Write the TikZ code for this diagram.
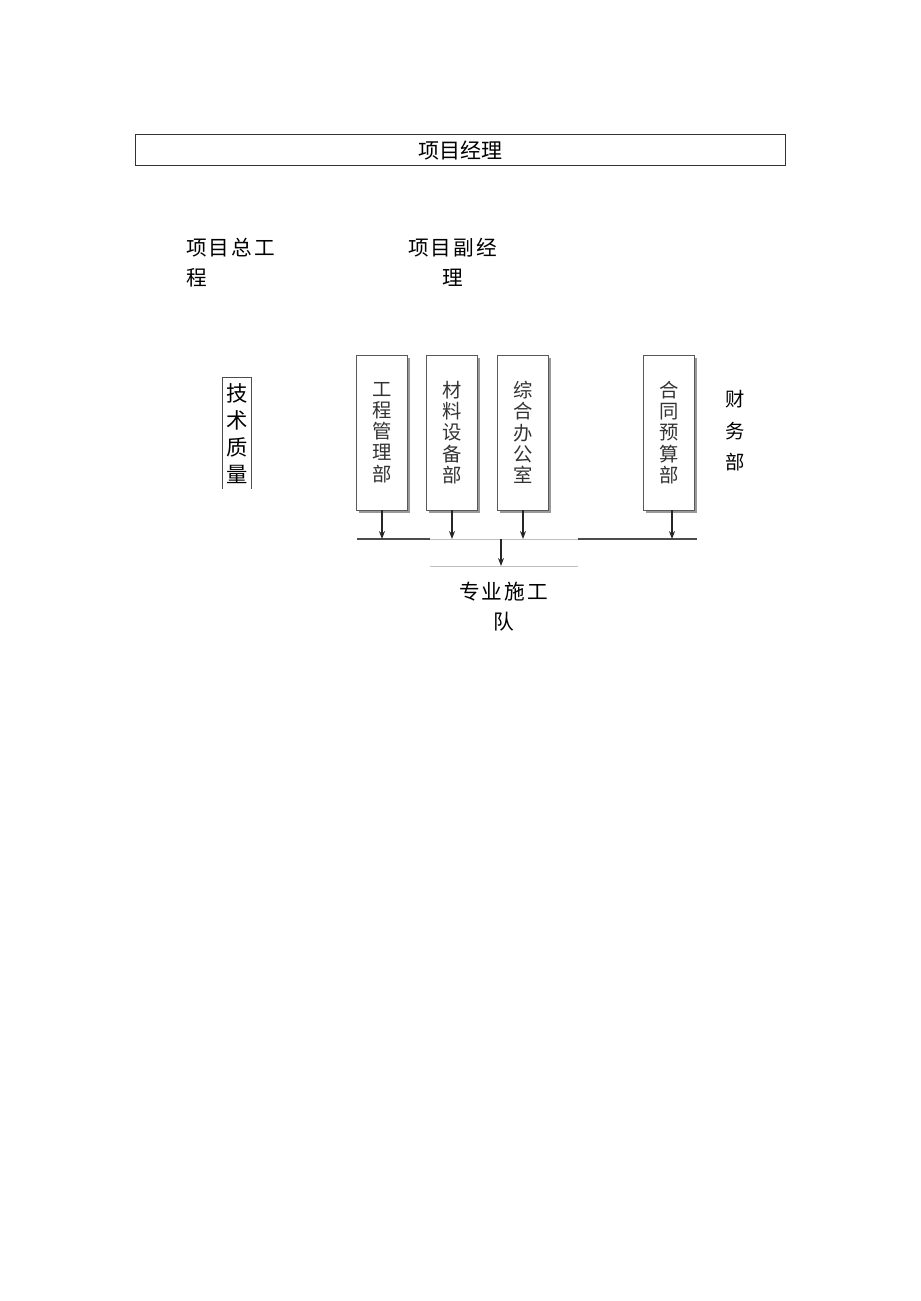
\documentclass[tikz,border=0pt]{standalone}
\usepackage{fontspec}
\setmainfont{Noto Sans CJK SC}
\newfontfamily\cjkwide[LetterSpace=10]{Noto Sans CJK SC}
\usetikzlibrary{arrows.meta,shadows}
\begin{document}
\begin{tikzpicture}[x=0.75pt,y=-0.75pt,
	dept/.style={draw=black!65,fill=white,minimum width=38.25pt,minimum height=116.25pt,
		inner sep=0pt,align=center,text=black!80,font=\fontsize{14.5}{15.9}\selectfont,
		drop shadow={shadow xshift=2pt,shadow yshift=-2pt,fill=black!40,opacity=1}},
	head/.style={inner sep=0pt,font=\cjkwide\fontsize{15.5}{22.5}\selectfont},
	arr/.style={-{Stealth[length=6pt,width=4.5pt]},black!85,line width=1pt},
	bar/.style={black!70,line width=1.2pt},
	thin/.style={black!25,line width=0.6pt}]
	\useasboundingbox (0,0) rectangle (920,1301);
	
	\node[draw=black!80,line width=0.75pt,minimum width=487.5pt,minimum height=23.25pt,
		font=\fontsize{15.75}{18}\selectfont] (xmjl) at (460,150.5) {项目经理};
	
	\node[head,anchor=west,align=left] (zgcs) at (186,262.5) {项目总工\\程};
	\node[head,align=center] (fjl) at (452.5,262.5) {项目副经\\理};
	
	% technical box, open at the bottom
	\node[inner sep=0pt,minimum width=21pt,minimum height=83.25pt,align=center,
		font=\fontsize{16}{20.25}\selectfont] (jszl) at (237,433.5) {技\\术\\质\\量};
	\draw[black!70,line width=0.75pt](jszl.south west)--(jszl.north west)
		--(jszl.north east)--(jszl.south east);
	
	\node[dept] (gcgl) at (382,432.5) {工\\程\\管\\理\\部};
	\node[dept] (clsb) at (452,432.5) {材\\料\\设\\备\\部};
	\node[dept] (zhbg) at (523,432.5) {综\\合\\办\\公\\室};
	\node[dept] (htys) at (669,432.5) {合\\同\\预\\算\\部};
	
	\node[align=center,inner sep=0pt,font=\fontsize{14.5}{23.6}\selectfont] (cwb) at (735,431) {财\\务\\部};
	
	\coordinate (la) at (357,539);
	\coordinate (lb) at (430,539);
	\coordinate (lc) at (578,539);
	\coordinate (ld) at (697,539);
	\coordinate (ma) at (430,566);
	\coordinate (mb) at (578,566);
	\coordinate (hub) at (501,539);
	
	\draw[bar](la)--(lb);
	\draw[thin](lb)--(lc);
	\draw[bar](lc)--(ld);
	\draw[thin](ma)--(mb);
	
	\draw[arr](gcgl.south)--(gcgl.south |- la);
	\draw[arr](clsb.south)--(clsb.south |- la);
	\draw[arr](zhbg.south)--(zhbg.south |- la);
	\draw[arr]([xshift=2.25pt]htys.south)--([xshift=2.25pt]htys.south |- la);
	\draw[arr](hub)--(hub |- ma);
	
	\node[head,align=center] (zysg) at (503.5,607) {专业施工\\队};
\end{tikzpicture}
\end{document}
